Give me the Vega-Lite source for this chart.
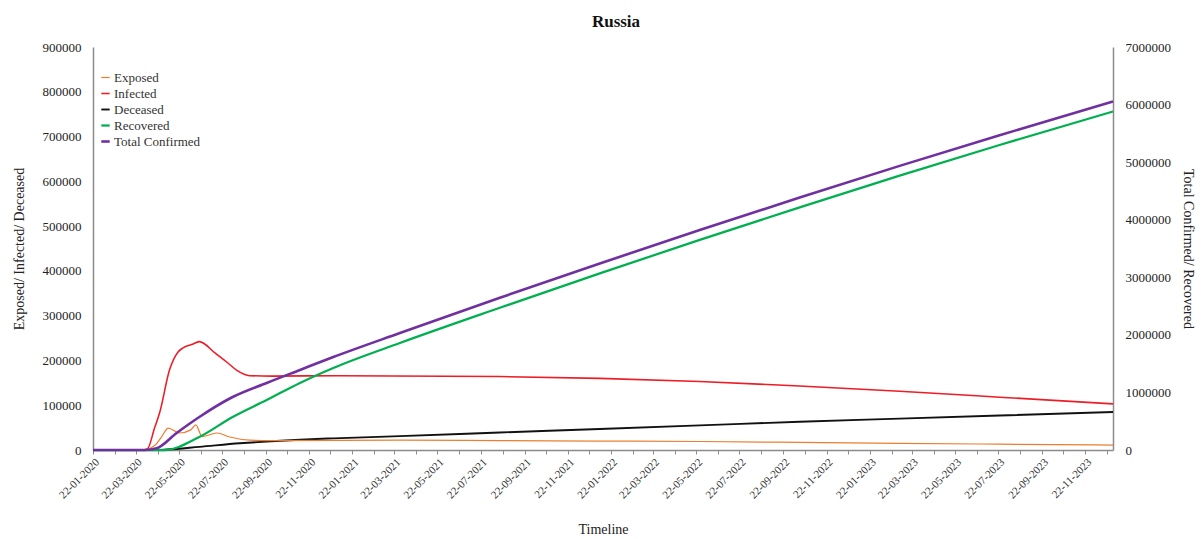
{
  "$schema": "https://vega.github.io/schema/vega-lite/v6.json",
  "width": 1020,
  "height": 403,
  "autosize": "none",
  "padding": {"left": 93, "top": 47, "right": 90, "bottom": 89},
  "background": "white",
  "title": {"text": "Russia", "fontSize": 17, "font": "Liberation Serif", "fontWeight": "bold", "color": "#111", "offset": 10, "dx": 13},
  "data": {"values": [
    {"date": "2020-01-22", "series": "Infected", "value": 0},
    {"date": "2020-03-31", "series": "Infected", "value": 0},
    {"date": "2020-04-08", "series": "Infected", "value": 3000},
    {"date": "2020-04-18", "series": "Infected", "value": 50000},
    {"date": "2020-04-25", "series": "Infected", "value": 83000},
    {"date": "2020-05-09", "series": "Infected", "value": 179000},
    {"date": "2020-05-21", "series": "Infected", "value": 219000},
    {"date": "2020-05-28", "series": "Infected", "value": 228000},
    {"date": "2020-06-10", "series": "Infected", "value": 236000},
    {"date": "2020-06-20", "series": "Infected", "value": 242000},
    {"date": "2020-07-12", "series": "Infected", "value": 217000},
    {"date": "2020-07-29", "series": "Infected", "value": 196000},
    {"date": "2020-08-12", "series": "Infected", "value": 178000},
    {"date": "2020-08-30", "series": "Infected", "value": 166000},
    {"date": "2020-10-01", "series": "Infected", "value": 165000},
    {"date": "2021-01-01", "series": "Infected", "value": 166000},
    {"date": "2021-08-18", "series": "Infected", "value": 164000},
    {"date": "2022-01-06", "series": "Infected", "value": 160000},
    {"date": "2022-05-27", "series": "Infected", "value": 153000},
    {"date": "2022-10-15", "series": "Infected", "value": 143000},
    {"date": "2023-03-05", "series": "Infected", "value": 131000},
    {"date": "2023-07-24", "series": "Infected", "value": 118000},
    {"date": "2023-12-31", "series": "Infected", "value": 103000},

    {"date": "2020-01-22", "series": "Deceased", "value": 0},
    {"date": "2020-04-20", "series": "Deceased", "value": 0},
    {"date": "2020-05-05", "series": "Deceased", "value": 1000},
    {"date": "2020-06-20", "series": "Deceased", "value": 7000},
    {"date": "2020-08-16", "series": "Deceased", "value": 15000},
    {"date": "2020-09-23", "series": "Deceased", "value": 19000},
    {"date": "2020-11-09", "series": "Deceased", "value": 23000},
    {"date": "2020-12-26", "series": "Deceased", "value": 26000},
    {"date": "2021-03-30", "series": "Deceased", "value": 31000},
    {"date": "2021-08-18", "series": "Deceased", "value": 39000},
    {"date": "2022-01-06", "series": "Deceased", "value": 47000},
    {"date": "2022-05-27", "series": "Deceased", "value": 55000},
    {"date": "2022-10-15", "series": "Deceased", "value": 63000},
    {"date": "2023-03-05", "series": "Deceased", "value": 70000},
    {"date": "2023-07-24", "series": "Deceased", "value": 77000},
    {"date": "2023-12-31", "series": "Deceased", "value": 85000},

    {"date": "2020-01-22", "series": "Exposed", "value": 0},
    {"date": "2020-04-01", "series": "Exposed", "value": 0},
    {"date": "2020-04-18", "series": "Exposed", "value": 10000},
    {"date": "2020-04-28", "series": "Exposed", "value": 30000},
    {"date": "2020-05-07", "series": "Exposed", "value": 49000},
    {"date": "2020-05-23", "series": "Exposed", "value": 38000},
    {"date": "2020-06-08", "series": "Exposed", "value": 45000},
    {"date": "2020-06-15", "series": "Exposed", "value": 56000},
    {"date": "2020-06-24", "series": "Exposed", "value": 30000},
    {"date": "2020-07-15", "series": "Exposed", "value": 38000},
    {"date": "2020-08-02", "series": "Exposed", "value": 29000},
    {"date": "2020-08-30", "series": "Exposed", "value": 22000},
    {"date": "2020-10-01", "series": "Exposed", "value": 21000},
    {"date": "2021-03-30", "series": "Exposed", "value": 22000},
    {"date": "2021-08-18", "series": "Exposed", "value": 21000},
    {"date": "2022-01-06", "series": "Exposed", "value": 20000},
    {"date": "2022-05-27", "series": "Exposed", "value": 19000},
    {"date": "2022-10-15", "series": "Exposed", "value": 17000},
    {"date": "2023-03-05", "series": "Exposed", "value": 15000},
    {"date": "2023-07-24", "series": "Exposed", "value": 13000},
    {"date": "2023-12-31", "series": "Exposed", "value": 11000},

    {"date": "2020-01-22", "series": "Recovered", "value": 0},
    {"date": "2020-05-02", "series": "Recovered", "value": 0},
    {"date": "2020-06-20", "series": "Recovered", "value": 226000},
    {"date": "2020-08-06", "series": "Recovered", "value": 573000},
    {"date": "2020-09-23", "series": "Recovered", "value": 868000},
    {"date": "2020-11-09", "series": "Recovered", "value": 1164000},
    {"date": "2020-12-26", "series": "Recovered", "value": 1424000},
    {"date": "2021-03-30", "series": "Recovered", "value": 1858000},
    {"date": "2021-08-18", "series": "Recovered", "value": 2470000},
    {"date": "2022-01-06", "series": "Recovered", "value": 3068000},
    {"date": "2022-05-27", "series": "Recovered", "value": 3650000},
    {"date": "2022-10-15", "series": "Recovered", "value": 4215000},
    {"date": "2023-03-05", "series": "Recovered", "value": 4765000},
    {"date": "2023-07-24", "series": "Recovered", "value": 5298000},
    {"date": "2023-12-31", "series": "Recovered", "value": 5880000},

    {"date": "2020-01-22", "series": "Total Confirmed", "value": 0},
    {"date": "2020-04-04", "series": "Total Confirmed", "value": 0},
    {"date": "2020-04-21", "series": "Total Confirmed", "value": 30000},
    {"date": "2020-05-19", "series": "Total Confirmed", "value": 295000},
    {"date": "2020-06-20", "series": "Total Confirmed", "value": 573000},
    {"date": "2020-08-06", "series": "Total Confirmed", "value": 920000},
    {"date": "2020-09-23", "series": "Total Confirmed", "value": 1164000},
    {"date": "2020-11-09", "series": "Total Confirmed", "value": 1390000},
    {"date": "2020-12-26", "series": "Total Confirmed", "value": 1615000},
    {"date": "2021-03-30", "series": "Total Confirmed", "value": 2032000},
    {"date": "2021-08-18", "series": "Total Confirmed", "value": 2644000},
    {"date": "2022-01-06", "series": "Total Confirmed", "value": 3240000},
    {"date": "2022-05-27", "series": "Total Confirmed", "value": 3821000},
    {"date": "2022-10-15", "series": "Total Confirmed", "value": 4386000},
    {"date": "2023-03-05", "series": "Total Confirmed", "value": 4935000},
    {"date": "2023-07-24", "series": "Total Confirmed", "value": 5468000},
    {"date": "2023-12-31", "series": "Total Confirmed", "value": 6052000}
  ]},
  "encoding": {
    "x": {
      "field": "date", "type": "temporal",
      "scale": {"type": "utc", "domain": [{"year": 2020, "month": 1, "date": 22, "utc": true}, {"year": 2023, "month": 12, "date": 31, "utc": true}]},
      "axis": {
        "title": "Timeline",
        "labelAngle": -45,
        "labelFontSize": 11,
        "labelOverlap": false,
        "labelColor": "#333",
        "tickSize": 4,
        "titlePadding": 22,
        "values": [
          {"year": 2020, "month": 1, "date": 22, "utc": true}, {"year": 2020, "month": 2, "date": 22, "utc": true}, {"year": 2020, "month": 3, "date": 22, "utc": true}, {"year": 2020, "month": 4, "date": 22, "utc": true}, {"year": 2020, "month": 5, "date": 22, "utc": true}, {"year": 2020, "month": 6, "date": 22, "utc": true}, {"year": 2020, "month": 7, "date": 22, "utc": true}, {"year": 2020, "month": 8, "date": 22, "utc": true}, {"year": 2020, "month": 9, "date": 22, "utc": true}, {"year": 2020, "month": 10, "date": 22, "utc": true}, {"year": 2020, "month": 11, "date": 22, "utc": true}, {"year": 2020, "month": 12, "date": 22, "utc": true},
          {"year": 2021, "month": 1, "date": 22, "utc": true}, {"year": 2021, "month": 2, "date": 22, "utc": true}, {"year": 2021, "month": 3, "date": 22, "utc": true}, {"year": 2021, "month": 4, "date": 22, "utc": true}, {"year": 2021, "month": 5, "date": 22, "utc": true}, {"year": 2021, "month": 6, "date": 22, "utc": true}, {"year": 2021, "month": 7, "date": 22, "utc": true}, {"year": 2021, "month": 8, "date": 22, "utc": true}, {"year": 2021, "month": 9, "date": 22, "utc": true}, {"year": 2021, "month": 10, "date": 22, "utc": true}, {"year": 2021, "month": 11, "date": 22, "utc": true}, {"year": 2021, "month": 12, "date": 22, "utc": true},
          {"year": 2022, "month": 1, "date": 22, "utc": true}, {"year": 2022, "month": 2, "date": 22, "utc": true}, {"year": 2022, "month": 3, "date": 22, "utc": true}, {"year": 2022, "month": 4, "date": 22, "utc": true}, {"year": 2022, "month": 5, "date": 22, "utc": true}, {"year": 2022, "month": 6, "date": 22, "utc": true}, {"year": 2022, "month": 7, "date": 22, "utc": true}, {"year": 2022, "month": 8, "date": 22, "utc": true}, {"year": 2022, "month": 9, "date": 22, "utc": true}, {"year": 2022, "month": 10, "date": 22, "utc": true}, {"year": 2022, "month": 11, "date": 22, "utc": true}, {"year": 2022, "month": 12, "date": 22, "utc": true},
          {"year": 2023, "month": 1, "date": 22, "utc": true}, {"year": 2023, "month": 2, "date": 22, "utc": true}, {"year": 2023, "month": 3, "date": 22, "utc": true}, {"year": 2023, "month": 4, "date": 22, "utc": true}, {"year": 2023, "month": 5, "date": 22, "utc": true}, {"year": 2023, "month": 6, "date": 22, "utc": true}, {"year": 2023, "month": 7, "date": 22, "utc": true}, {"year": 2023, "month": 8, "date": 22, "utc": true}, {"year": 2023, "month": 9, "date": 22, "utc": true}, {"year": 2023, "month": 10, "date": 22, "utc": true}, {"year": 2023, "month": 11, "date": 22, "utc": true}, {"year": 2023, "month": 12, "date": 22, "utc": true}
        ],
        "labelExpr": "utcmonth(datum.value) % 2 == 0 ? utcFormat(datum.value, '%d-%m-%Y') : ''"
      }
    },
    "color": {
      "field": "series", "type": "nominal",
      "scale": {"domain": ["Exposed", "Infected", "Deceased", "Recovered", "Total Confirmed"], "range": ["#ED7D31", "#EE1C25", "#111111", "#00B050", "#7030A0"]},
      "legend": {"title": null, "orient": "none", "legendX": 6, "legendY": 24, "symbolType": "stroke", "symbolStrokeWidth": 2, "symbolSize": 70, "labelFontSize": 13, "labelFont": "Liberation Serif", "labelColor": "#333", "rowPadding": 2, "symbolOffset": 0, "labelOffset": 2}
    },
    "strokeWidth": {
      "field": "series", "type": "nominal",
      "scale": {"domain": ["Exposed", "Infected", "Deceased", "Recovered", "Total Confirmed"], "range": [1.2, 2.6, 2.6, 2.2, 2.2]},
      "legend": null
    }
  },
  "layer": [
    {
      "transform": [{"filter": {"field": "series", "oneOf": ["Exposed", "Infected", "Deceased"]}}],
      "mark": {"type": "line", "interpolate": "monotone"},
      "encoding": {
        "y": {
          "field": "value", "type": "quantitative",
          "scale": {"domain": [0, 900000], "nice": false},
          "axis": {"title": "Exposed/ Infected/ Deceased", "values": [0, 100000, 200000, 300000, 400000, 500000, 600000, 700000, 800000, 900000], "format": "d", "tickSize": 0, "labelPadding": 12, "titlePadding": 16}
        }
      }
    },
    {
      "transform": [{"filter": {"field": "series", "oneOf": ["Recovered", "Total Confirmed"]}}],
      "mark": {"type": "line", "interpolate": "monotone"},
      "encoding": {
        "y": {
          "field": "value", "type": "quantitative",
          "scale": {"domain": [0, 7000000], "nice": false},
          "axis": {"orient": "right", "title": "Total Confirmed/ Recovered", "values": [0, 1000000, 2000000, 3000000, 4000000, 5000000, 6000000, 7000000], "format": "d", "tickSize": 0, "labelPadding": 12, "titlePadding": 10}
        }
      }
    }
  ],
  "resolve": {"scale": {"y": "independent"}},
  "config": {
    "font": "Liberation Serif",
    "view": {"stroke": null},
    "axis": {
      "grid": false,
      "domainColor": "#8c8c8c",
      "domainWidth": 1.5,
      "tickColor": "#8c8c8c",
      "labelColor": "#222",
      "titleColor": "#222",
      "labelFont": "Liberation Serif",
      "titleFont": "Liberation Serif",
      "labelFontSize": 13,
      "titleFontSize": 14,
      "titleFontWeight": "normal"
    }
  }
}
